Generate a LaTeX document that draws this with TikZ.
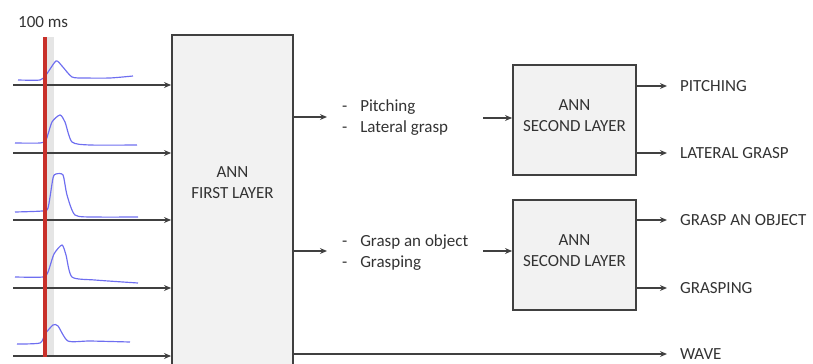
\documentclass[tikz,border=0pt]{standalone}
\usepackage{fontspec}
\setmainfont{Carlito}
\usetikzlibrary{arrows.meta}

\definecolor{linegray}{HTML}{404040}
\definecolor{boxfill}{HTML}{F2F2F2}
\definecolor{textgray}{HTML}{333333}
\definecolor{wave}{HTML}{6E6EF0}
\definecolor{marker}{HTML}{C8302A}

\tikzset{
	conn/.style={draw=linegray, line width=1.3pt, -{Stealth[length=6pt,width=5pt]}},
	layer/.style={draw=linegray, fill=boxfill, line width=1.5pt, inner sep=0pt},
	lbl/.style={text=textgray, font=\fontsize{14.5}{18}\selectfont, align=center},
	outlabel/.style={lbl, anchor=west, inner xsep=11pt},
	signal/.style={draw=wave, line width=1pt, smooth, tension=0.4},
}

\newcommand{\dashitem}[1]{\makebox[15.4pt][l]{-}#1}

\begin{document}
\begin{tikzpicture}[x=0.03cm, y=-0.03cm]
	\useasboundingbox (0,0) rectangle (813,363);

	% time marker band and recorded signals
	\fill[gray!20] (46,37) rectangle (54,357);
	\draw[signal] plot coordinates {(18,80) (40,80) (46,75) (56,61) (62,66) (72,77) (85,78) (110,78) (133,76)};
	\draw[signal] plot coordinates {(15,143) (40,143) (46,140) (52,122) (60,115) (65,122) (72,142) (90,145) (137,145)};
	\draw[signal] plot coordinates {(15,212) (42,211) (48,208) (53,178) (56,174) (63,175) (67,195) (75,215) (95,217) (138,217)};
	\draw[signal] plot coordinates {(15,277) (43,277) (48,272) (54,254) (62,245) (66,255) (72,277) (95,280) (138,283)};
	\draw[signal] plot coordinates {(17,344) (40,343) (45,334) (53,325) (58,326) (68,341) (90,341) (130,342)};

	% first layer
	\node[layer, minimum width=3.63cm, minimum height=10.2cm] (first) at (232.5,205) {};
	\node[lbl] (firsttxt) at (232.5,183) {ANN\\FIRST LAYER};
	\foreach \y [count=\i] in {85,153,220,288,356} {
		\coordinate (in\i) at (13,\y);
		\draw[conn] (in\i) -- (in\i -| first.west);
	}
	\draw[marker, line width=2.6pt] (45,37) -- (45,357);
	\node[lbl, anchor=west, inner sep=0pt] (ms) at (18,22) {100 ms};

	% intermediate classes
	\node[lbl, anchor=west, align=left, inner sep=0pt] (mid1) at (342,117.5) {\dashitem{Pitching}\\\dashitem{Lateral grasp}};
	\node[lbl, anchor=west, align=left, inner sep=0pt] (mid2) at (342,252.5) {\dashitem{Grasp an object}\\\dashitem{Grasping}};
	\coordinate (o1) at (327,117);
	\coordinate (o2) at (327,251);
	\draw[conn] (o1 -| first.east) -- (o1);
	\draw[conn] (o2 -| first.east) -- (o2);

	% second layer
	\node[layer, minimum width=3.69cm, minimum height=3.3cm] (sec1) at (574.5,120) {};
	\node[layer, minimum width=3.69cm, minimum height=3.3cm] (sec2) at (574.5,255) {};
	\node[lbl] (sec1txt) at (574.5,116) {ANN\\SECOND LAYER};
	\node[lbl] (sec2txt) at (574.5,251) {ANN\\SECOND LAYER};
	\coordinate (m1) at (483,118);
	\coordinate (m2) at (483,251);
	\draw[conn] (m1) -- (m1 -| sec1.west);
	\draw[conn] (m2) -- (m2 -| sec2.west);

	% final classes
	\node[outlabel] (pitch) at (667,86) {PITCHING};
	\node[outlabel] (lat) at (667,153) {LATERAL GRASP};
	\node[outlabel] (obj) at (667,220) {GRASP AN OBJECT};
	\node[outlabel] (grasping) at (667,288) {GRASPING};
	\node[outlabel] (wavecls) at (667,354) {WAVE};
	\draw[conn] (pitch.west -| sec1.east) -- (pitch.west);
	\draw[conn] (lat.west -| sec1.east) -- (lat.west);
	\draw[conn] (obj.west -| sec2.east) -- (obj.west);
	\draw[conn] (grasping.west -| sec2.east) -- (grasping.west);
	\draw[conn] (wavecls.west -| first.east) -- (wavecls.west);
\end{tikzpicture}
\end{document}
